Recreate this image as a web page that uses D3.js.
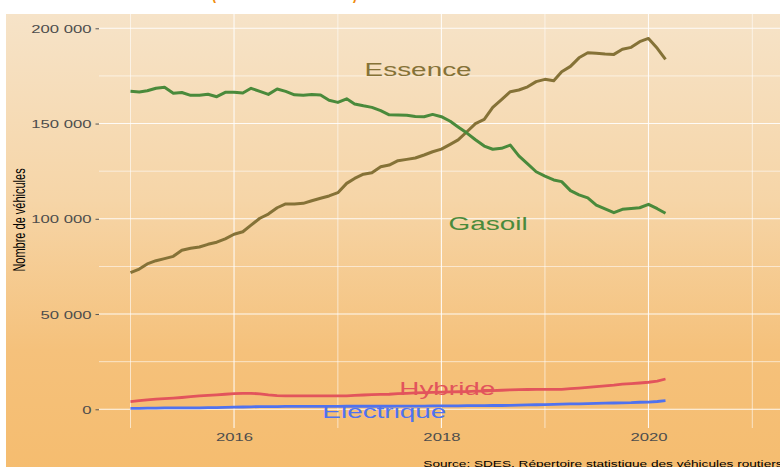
<!DOCTYPE html>
<html>
<head>
<meta charset="utf-8">
<script src="https://cdn.jsdelivr.net/npm/d3@7"></script>
<style>
body{margin:0;background:#fff;}
text{font-family:"Liberation Sans",Arial,sans-serif;}
</style>
</head>
<body>
<div id="chart"></div>
<script>
// monthly values, jan 2015 -> mar 2020
const essence = [71700,73600,76300,78000,79100,80300,83500,84500,85200,86600,87700,89500,
  91900,93200,96700,100300,102500,105800,107800,107800,108100,109500,110800,112000,
  113700,118600,121200,123400,124200,127300,128200,130500,131200,131900,133500,135200,
  136600,139100,141400,145700,150000,152200,158500,162600,166700,167600,169300,172000,
  173200,172500,177200,180000,184500,187200,186900,186500,186300,189000,190000,193000,
  194700,189500,183700];
const gasoil = [166900,166600,167200,168500,169000,165900,166300,164800,164800,165400,164100,166400,
  166400,166000,168500,166900,165300,168100,166900,165100,164800,165200,165000,162200,
  161100,163000,160300,159300,158500,156800,154600,154500,154400,153700,153600,154800,
  153600,151200,148200,145000,141500,138200,136500,137000,138700,133000,128800,124700,
  122400,120400,119500,114800,112600,111000,107200,105200,103200,105000,105400,105800,
  107600,105300,102900];
const hybride = [4000,4500,4900,5300,5600,5900,6200,6600,7000,7300,7600,7900,
  8200,8400,8400,8100,7600,7200,7100,7000,7000,7000,7000,7000,
  7000,7100,7300,7500,7700,7800,7900,8200,8400,8600,8800,8900,
  9000,9100,9200,9300,9500,9600,9800,10000,10200,10300,10400,10500,
  10500,10500,10500,10800,11100,11500,11900,12300,12700,13200,13500,13800,
  14200,14800,15900];
const electrique = [500,500,600,600,700,700,700,800,800,900,900,1000,
  1100,1200,1300,1400,1400,1400,1500,1500,1500,1500,1500,1500,
  1500,1600,1600,1600,1600,1600,1600,1700,1700,1700,1700,1800,
  1800,1800,1800,1900,1900,1900,2000,2000,2100,2200,2300,2400,
  2500,2600,2700,2800,2900,3000,3100,3200,3300,3400,3500,3700,
  3800,4100,4500];

const seriesNames = ['Essence','Gasoil','Hybride','Electrique'];
const seriesColors = ['#857237','#4a8a3b','#e2545c','#4f72ef'];
// label anchors : decimal year, value
const labelYears = [2017.775, 2018.451, 2018.057, 2017.449];
const labelValues = [174900, 94100, 7500, -4700];

const yTicks = [0,50000,100000,150000,200000];
const yMinor = [25000,75000,125000,175000];
const xTickYears = [2016,2018,2020];
const xMinorYears = [2015,2017,2019,2021];

const width = 780, height = 467;
const SX = 1.45; // horizontal stretch of text
const panel = {left:99, right:782, top:14, bottom:428};

const svg = d3.select('#chart').append('svg')
    .attr('width',width).attr('height',height);

const grad = svg.append('defs').append('linearGradient')
    .attr('id','bg').attr('x1',0).attr('y1',0).attr('x2',0).attr('y2',1);
grad.append('stop').attr('offset','0%').attr('stop-color','#f6e3c8');
grad.append('stop').attr('offset','40%').attr('stop-color','#f6d5a7');
grad.append('stop').attr('offset','72%').attr('stop-color','#f5c17b');
grad.append('stop').attr('offset','100%').attr('stop-color','#f5bc6e');

svg.append('rect')
    .attr('x',6).attr('y',14)
    .attr('width',width).attr('height',height)
    .attr('fill','url(#bg)');

const yearDate = yr => {
  const y0 = Math.floor(yr);
  const a = new Date(y0,0,1), b = new Date(y0+1,0,1);
  return new Date(+a + (yr-y0)*(b-a));
};

const months = d3.timeMonth.range(new Date(2015,0,1), new Date(2020,3,1));

const x = d3.scaleTime()
    .domain([new Date(2015,0,1), new Date(2021,0,1)])
    .range([130.5, 752.3]);
const y = d3.scaleLinear()
    .domain([0,200000])
    .range([409.3, 28.3]);

// grid
const grid = svg.append('g');
grid.selectAll('.hmin').data(yMinor).enter().append('line')
    .attr('x1',panel.left).attr('x2',panel.right)
    .attr('y1',d=>y(d)).attr('y2',d=>y(d))
    .style('stroke','#fff').style('stroke-width',0.8).style('opacity',0.75);
grid.selectAll('.hmaj').data(yTicks).enter().append('line')
    .attr('x1',panel.left).attr('x2',panel.right)
    .attr('y1',d=>y(d)).attr('y2',d=>y(d))
    .style('stroke','#fff').style('stroke-width',1.1).style('opacity',0.9);
grid.selectAll('.vmin').data(xMinorYears).enter().append('line')
    .attr('x1',d=>x(yearDate(d))).attr('x2',d=>x(yearDate(d)))
    .attr('y1',panel.top).attr('y2',panel.bottom)
    .style('stroke','#fff').style('stroke-width',0.8).style('opacity',0.75);
grid.selectAll('.vmaj').data(xTickYears).enter().append('line')
    .attr('x1',d=>x(yearDate(d))).attr('x2',d=>x(yearDate(d)))
    .attr('y1',panel.top).attr('y2',panel.bottom)
    .style('stroke','#fff').style('stroke-width',1.1).style('opacity',0.9);

// axes
const yAxis = d3.axisLeft(y)
    .tickValues(yTicks)
    .tickSize(3.5)
    .tickFormat(d => d3.format(',')(d).replace(/,/g,' '));
const yAxisGroup = svg.append('g')
    .attr('transform','translate(' + panel.left + ',0)')
    .call(yAxis);
yAxisGroup.select('.domain').remove();
yAxisGroup.selectAll('line').attr('stroke','#555');
yAxisGroup.selectAll('text')
    .attr('x',null).attr('dy','0.36em')
    .attr('transform','translate(-7.5,0) scale(' + SX + ',1)')
    .style('font-size','11.5px').style('fill','#4d4d4d');

const xAxis = d3.axisBottom(x)
    .tickValues(xTickYears.map(yearDate))
    .tickSize(0).tickPadding(5.3)
    .tickFormat(d3.timeFormat('%Y'));
const xAxisGroup = svg.append('g')
    .attr('transform','translate(0,' + panel.bottom + ')')
    .call(xAxis);
xAxisGroup.select('.domain').remove();
xAxisGroup.selectAll('text')
    .attr('transform','scale(' + SX + ',1)')
    .attr('x',function(d){ return 0; })
    .style('font-size','11.5px').style('fill','#4d4d4d');

// lines
const line = d3.line()
    .x((d,i)=>x(months[i]))
    .y(d=>y(d));

const allSeries = [essence, gasoil, hybride, electrique];
svg.selectAll('.serie').data(allSeries).enter().append('path')
    .attr('d',line)
    .style('fill','none')
    .style('stroke',(d,i)=>seriesColors[i])
    .style('stroke-width',(d,i)=> i<2 ? 3 : 2.8)
    .style('stroke-linejoin','round');

// labels
seriesNames.forEach((name,i)=>{
  svg.append('text')
     .attr('transform','translate(' + x(yearDate(labelYears[i])) + ',' + y(labelValues[i]) + ') scale(1.5,1)')
     .style('text-anchor','middle')
     .style('font-size','18.6px')
     .style('fill',seriesColors[i])
     .text(name);
});

// y title
svg.append('text')
    .attr('transform','translate(25,220) scale(' + SX + ',1) rotate(-90)')
    .style('text-anchor','middle')
    .style('font-size','11px')
    .style('fill','#000')
    .text('Nombre de véhicules');

// title (cut off at top)
svg.append('text')
    .attr('x',284.5).attr('y',-1)
    .style('text-anchor','middle')
    .style('font-size','20px')
    .style('font-weight','bold')
    .style('fill','#f08c0c')
    .attr('textLength',146).attr('lengthAdjust','spacingAndGlyphs')
    .text('(en cumul sur 12 mois)');

// caption
svg.append('text')
    .attr('transform','translate(423.3,466.5) scale(' + SX + ',1)')
    .style('font-size','9.4px')
    .style('fill','#000')
    .text('Source: SDES, Répertoire statistique des véhicules routiers');
</script>
</body>
</html>
